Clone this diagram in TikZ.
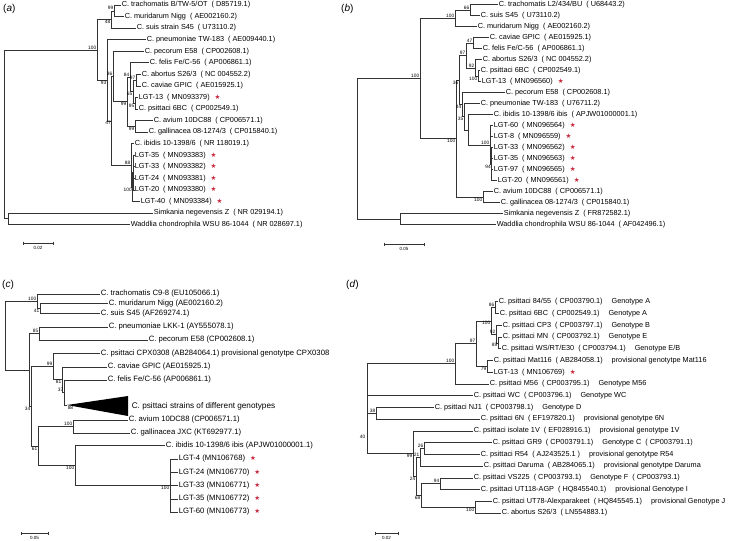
\documentclass[tikz,border=0pt]{standalone}
\usepackage{fontspec}
\setmainfont{Liberation Sans}
\newfontfamily\symf{DejaVu Sans}
\definecolor{starred}{RGB}{200,40,60}
\newcommand\lgtstar{\hspace{5pt}{\symf\color{starred}\fontsize{6.5}{7}\selectfont ★}}
\newcommand\gp{\hspace{4pt}}
\newcommand\gpp{\hspace{9pt}}
\newcommand\leafnode[4]{\node[leaf] (#1) at (#2,#3) {#4};}
\newcommand\bsup[3]{\node[bsl,anchor=south east] (#1) at (#2) {#3};}
\newcommand\bsdn[3]{\node[bsl,anchor=north east] (#1) at (#2) {#3};}
\newcommand\inn[3]{\coordinate (#1) at (#2,#3);}
\newcommand\tedge[2]{\draw[br] (#1) |- (#2);}
\tikzset{
  leaf/.style={anchor=west, inner sep=0.6pt, font=\fontsize{7.3}{8}\selectfont},
  leafc/.style={leaf, font=\fontsize{7.7}{8.5}\selectfont},
  bsl/.style={inner sep=0.6pt, font=\fontsize{4.8}{5}\selectfont},
  br/.style={draw=black!80, line width=0.55pt},
  panel/.style={anchor=west, inner sep=0pt, font=\fontsize{10}{12}\selectfont},
  sbar/.style={draw=black!80, line width=0.5pt},
  slab/.style={inner sep=0pt, font=\fontsize{4.5}{5}\selectfont}
}
\begin{document}
\begin{tikzpicture}[x=1pt,y=-1pt]
\fill[white] (0,0) rectangle (729,541);
\useasboundingbox (0,0) rectangle (729,541);

% ---------------- panel labels
\node[panel] (pa) at (3,9) {(\textit{a})};
\node[panel] (pb) at (341,9) {(\textit{b})};
\node[panel] (pc) at (2,285) {(\textit{c})};
\node[panel] (pd) at (346,285) {(\textit{d})};

% ================= (a)
\leafnode{a0}{121}{5.0}{C. trachomatis B/TW-5/OT\gp( D85719.1)}
\leafnode{a1}{124}{16.55}{C. muridarum Nigg\gp( AE002160.2)}
\leafnode{a2}{136}{28.1}{C. suis strain S45\gp( U73110.2)}
\leafnode{a3}{146}{39.65}{C. pneumoniae TW-183\gp( AE009440.1)}
\leafnode{a4}{144}{51.2}{C. pecorum E58\gp( CP002608.1)}
\leafnode{a5}{149}{62.75}{C. felis Fe/C-56\gp( AP006861.1)}
\leafnode{a6}{141}{74.3}{C. abortus S26/3\gp( NC 004552.2)}
\leafnode{a7}{141}{85.85}{C. caviae GPIC\gp( AE015925.1)}
\leafnode{a8}{138}{97.4}{LGT-13\gp( MN093379)\lgtstar}
\leafnode{a9}{138}{108.95}{C. psittaci 6BC\gp( CP002549.1)}
\leafnode{a10}{153}{120.5}{C. avium 10DC88\gp( CP006571.1)}
\leafnode{a11}{148}{132.05}{C. gallinacea 08-1274/3\gp( CP015840.1)}
\leafnode{a12}{134}{143.6}{C. ibidis 10-1398/6\gp( NR 118019.1)}
\leafnode{a13}{134}{155.15}{LGT-35\gp( MN093383)\lgtstar}
\leafnode{a14}{134}{166.7}{LGT-33\gp( MN093382)\lgtstar}
\leafnode{a15}{134}{178.25}{LGT-24\gp( MN093381)\lgtstar}
\leafnode{a16}{134}{189.8}{LGT-20\gp( MN093380)\lgtstar}
\leafnode{a17}{140}{201.35}{LGT-40\gp( MN093384)\lgtstar}
\leafnode{a18}{153}{212.9}{Simkania negevensis Z\gp( NR 029194.1)}
\leafnode{a19}{130}{224.45}{Waddlia chondrophila WSU 86-1044\gp( NR 028697.1)}

\inn{aA}{114}{10.78}
\inn{aB}{111}{19.44}
\inn{aC1}{136}{80.08}
\inn{aC2}{135}{103.18}
\inn{aC3}{133}{91.63}
\inn{aC4}{130}{77.19}
\inn{aG}{135}{126.28}
\inn{aC5}{127}{101.74}
\inn{aN36}{113}{76.47}
\inn{aL3}{133.5}{172.48}
\inn{aL2}{132.5}{186.91}
\inn{aL1}{131}{165.26}
\inn{aN47}{111.5}{120.87}
\inn{aX93}{107}{80.26}
\inn{aChl}{97}{49.85}
\inn{aSW}{8}{218.68}
\inn{aR}{4}{134.27}

\tedge{aA}{a0.west}\tedge{aA}{a1.west}
\tedge{aB}{aA}\tedge{aB}{a2.west}
\tedge{aC1}{a6.west}\tedge{aC1}{a7.west}
\tedge{aC2}{a8.west}\tedge{aC2}{a9.west}
\tedge{aC3}{aC1}\tedge{aC3}{aC2}
\tedge{aC4}{a5.west}\tedge{aC4}{aC3}
\tedge{aG}{a10.west}\tedge{aG}{a11.west}
\tedge{aC5}{aC4}\tedge{aC5}{aG}
\tedge{aN36}{a4.west}\tedge{aN36}{aC5}
\tedge{aL3}{a13.west}\tedge{aL3}{a14.west}\tedge{aL3}{a15.west}\tedge{aL3}{a16.west}
\tedge{aL2}{aL3}\tedge{aL2}{a17.west}
\tedge{aL1}{a12.west}\tedge{aL1}{aL2}
\tedge{aN47}{aN36}\tedge{aN47}{aL1}
\tedge{aX93}{a3.west}\tedge{aX93}{aN47}
\tedge{aChl}{aB}\tedge{aChl}{aX93}
\tedge{aSW}{a18.west}\tedge{aSW}{a19.west}
\tedge{aR}{aChl}\tedge{aR}{aSW}

\bsup{la1}{aA}{99}
\bsdn{la2}{aB}{48}
\bsup{la3}{aChl}{100}
\bsdn{la4}{aX93}{93}
\bsup{la5}{aN36}{36}
\bsdn{la6}{aN47}{47}
\bsup{la7}{aC4}{84}
\bsup{la8}{aC1}{97}
\bsdn{la9}{aC3}{65}
\bsdn{la10}{aC5}{99}
\bsdn{la11}{aC2}{95}
\bsdn{la12}{aG}{99}
\bsup{la13}{aL1}{88}
\bsdn{la14}{aL2}{100}

\coordinate (sa1) at (23,243); \coordinate (sa2) at (53,243);
\draw[sbar] (sa1) -- (sa2);
\draw[sbar] ([yshift=1.5pt]sa1) -- ([yshift=-1.5pt]sa1);
\draw[sbar] ([yshift=1.5pt]sa2) -- ([yshift=-1.5pt]sa2);
\node[slab] (sal) at (38,248) {0.02};

% ================= (b)
\leafnode{b0}{498}{4.7}{C. trachomatis L2/434/BU\gp( U68443.2)}
\leafnode{b1}{480}{15.7}{C. suis S45\gp( U73110.2)}
\leafnode{b2}{477}{26.7}{C. muridarum Nigg\gp( AE002160.2)}
\leafnode{b3}{489}{37.7}{C. caviae GPIC\gp( AE015925.1)}
\leafnode{b4}{482}{48.7}{C. felis Fe/C-56\gp( AP006861.1)}
\leafnode{b5}{482}{59.7}{C. abortus S26/3\gp( NC 004552.2)}
\leafnode{b6}{480}{70.7}{C. psittaci 6BC\gp( CP002549.1)}
\leafnode{b7}{481}{81.7}{LGT-13\gp( MN096560)\lgtstar}
\leafnode{b8}{505}{92.7}{C. pecorum E58\gp( CP002608.1)}
\leafnode{b9}{480}{103.7}{C. pneumoniae TW-183\gp( U76711.2)}
\leafnode{b10}{493}{114.7}{C. ibidis 10-1398/6 ibis\gp( APJW01000001.1)}
\leafnode{b11}{493}{125.7}{LGT-60\gp( MN096564)\lgtstar}
\leafnode{b12}{493}{136.7}{LGT-8\gp( MN096559)\lgtstar}
\leafnode{b13}{493}{147.7}{LGT-33\gp( MN096562)\lgtstar}
\leafnode{b14}{493}{158.7}{LGT-35\gp( MN096563)\lgtstar}
\leafnode{b15}{493}{169.7}{LGT-97\gp( MN096565)\lgtstar}
\leafnode{b16}{497}{180.7}{LGT-20\gp( MN096561)\lgtstar}
\leafnode{b17}{493}{191.7}{C. avium 10DC88\gp( CP006571.1)}
\leafnode{b18}{500}{202.7}{C. gallinacea 08-1274/3\gp( CP015840.1)}
\leafnode{b19}{503}{213.7}{Simkania negevensis Z\gp( FR872582.1)}
\leafnode{b20}{496}{224.7}{Waddlia chondrophila WSU 86-1044\gp( AF042496.1)}

\inn{bT1}{470}{10.2}
\inn{bT2}{455}{18.45}
\inn{bN47}{473}{43.2}
\inn{bP1}{478}{76.2}
\inn{bP2}{475}{67.95}
\inn{bN97}{466}{55.6}
\inn{bLG2}{491.5}{164.2}
\inn{bLG1}{490}{144.95}
\inn{bI1}{468}{129.8}
\inn{bN35}{464}{116.75}
\inn{bN44}{462}{104.7}
\inn{bN36}{459}{80.2}
\inn{bAG}{483}{197.2}
\inn{bXb}{456}{138.7}
\inn{bChl}{420}{78.6}
\inn{bSW}{400}{219.2}
\inn{bR}{357}{148.9}

\tedge{bT1}{b0.west}\tedge{bT1}{b1.west}
\tedge{bT2}{bT1}\tedge{bT2}{b2.west}
\tedge{bN47}{b3.west}\tedge{bN47}{b4.west}
\tedge{bP1}{b6.west}\tedge{bP1}{b7.west}
\tedge{bP2}{b5.west}\tedge{bP2}{bP1}
\tedge{bN97}{bN47}\tedge{bN97}{bP2}
\tedge{bLG2}{b13.west}\tedge{bLG2}{b14.west}\tedge{bLG2}{b15.west}\tedge{bLG2}{b16.west}
\tedge{bLG1}{b11.west}\tedge{bLG1}{b12.west}\tedge{bLG1}{bLG2}
\tedge{bI1}{b10.west}\tedge{bI1}{bLG1}
\tedge{bN35}{b9.west}\tedge{bN35}{bI1}
\tedge{bN44}{b8.west}\tedge{bN44}{bN35}
\tedge{bN36}{bN97}\tedge{bN36}{bN44}
\tedge{bAG}{b17.west}\tedge{bAG}{b18.west}
\tedge{bXb}{bN36}\tedge{bXb}{bAG}
\tedge{bChl}{bT2}\tedge{bChl}{bXb}
\tedge{bSW}{b19.west}\tedge{bSW}{b20.west}
\tedge{bR}{bChl}\tedge{bR}{bSW}

\bsup{lb1}{bT1}{66}
\bsup{lb2}{bT2}{100}
\bsup{lb3}{bN47}{47}
\bsup{lb4}{bN97}{97}
\bsup{lb5}{bP2}{92}
\bsdn{lb6}{bP1}{100}
\bsdn{lb7}{bN36}{36}
\bsdn{lb8}{bN44}{44}
\bsdn{lb9}{bN35}{35}
\bsup{lb10}{bLG1}{100}
\bsdn{lb11}{bLG2}{94}
\bsdn{lb12}{bXb}{100}
\bsdn{lb13}{bAG}{100}
\bsup{lb14}{bChl}{100}

\coordinate (sb1) at (384,244); \coordinate (sb2) at (424,244);
\draw[sbar] (sb1) -- (sb2);
\draw[sbar] ([yshift=1.5pt]sb1) -- ([yshift=-1.5pt]sb1);
\draw[sbar] ([yshift=1.5pt]sb2) -- ([yshift=-1.5pt]sb2);
\node[slab] (sbl) at (404,249) {0.05};

% ================= (c)
\node[leafc] (c0) at (100,294) {C. trachomatis C9-8 (EU105066.1)};
\node[leafc] (c1) at (108,303.5) {C. muridarum Nigg (AE002160.2)};
\node[leafc] (c2) at (100,313.5) {C. suis S45 (AF269274.1)};
\node[leafc] (c3) at (108,327) {C. pneumoniae LKK-1 (AY555078.1)};
\node[leafc] (c4) at (148,340) {C. pecorum E58 (CP002608.1)};
\node[leafc] (c5) at (100,353.5) {C. psittaci CPX0308 (AB284064.1) provisional genotytpe CPX0308};
\node[leafc] (c6) at (107,367) {C. caviae GPIC (AE015925.1)};
\node[leafc] (c7) at (107,380) {C. felis Fe/C-56 (AP006861.1)};
\node[leafc] (c9) at (128,420) {C. avium 10DC88 (CP006571.1)};
\node[leafc] (c10) at (130,433) {C. gallinacea JXC (KT692977.1)};
\node[leafc] (c11) at (165,445.5) {C. ibidis 10-1398/6 ibis (APJW01000001.1)};
\node[leafc] (c12) at (178,459) {LGT-4 (MN106768)\lgtstar};
\node[leafc] (c13) at (178,472.3) {LGT-24 (MN106770)\lgtstar};
\node[leafc] (c14) at (178,485.5) {LGT-33 (MN106771)\lgtstar};
\node[leafc] (c15) at (178,498.8) {LGT-35 (MN106772)\lgtstar};
\node[leafc] (c16) at (178,512) {LGT-60 (MN106773)\lgtstar};

\coordinate (ctip) at (67,405);
\coordinate (ctt) at (128,396);
\coordinate (ctb) at (128,416);
\fill[black] (ctip) -- (ctt) -- (ctb) -- cycle;
\node[leaf, font=\fontsize{8.2}{9}\selectfont] (c8) at (131,406) {C. psittaci strains of different genotypes};

\inn{cMS}{40}{308.5}
\inn{cTG}{37}{301.25}
\inn{cPP}{39}{333.5}
\inn{cN37}{64}{392.5}
\inn{cN81}{62}{379.75}
\inn{cN99}{53}{366.6}
\inn{cAG}{73}{426.5}
\inn{cLGT}{170}{485.5}
\inn{cLG}{75}{465.5}
\inn{cN61}{38}{446}
\inn{cR2}{31}{406.3}
\inn{cR1}{29}{369.9}
\inn{cR}{5}{335.6}

\tedge{cMS}{c1.west}\tedge{cMS}{c2.west}
\tedge{cTG}{c0.west}\tedge{cTG}{cMS}
\tedge{cPP}{c3.west}\tedge{cPP}{c4.west}
\tedge{cN37}{c7.west}\tedge{cN37}{ctip}
\tedge{cN81}{c6.west}\tedge{cN81}{cN37}
\tedge{cN99}{c5.west}\tedge{cN99}{cN81}
\tedge{cAG}{c9.west}\tedge{cAG}{c10.west}
\tedge{cLGT}{c12.west}\tedge{cLGT}{c13.west}\tedge{cLGT}{c14.west}\tedge{cLGT}{c15.west}\tedge{cLGT}{c16.west}
\tedge{cLG}{c11.west}\tedge{cLG}{cLGT}
\tedge{cN61}{cAG}\tedge{cN61}{cLG}
\tedge{cR2}{cN99}\tedge{cR2}{cN61}
\tedge{cR1}{cPP}\tedge{cR1}{cR2}
\tedge{cR}{cTG}\tedge{cR}{cR1}

\bsup{lc1}{cTG}{100}
\bsdn{lc2}{cMS}{41}
\bsup{lc3}{cPP}{85}
\bsup{lc4}{cN99}{99}
\bsdn{lc5}{cN81}{81}
\bsup{lc6}{cN37}{37}
\node[bsl,anchor=north west] (lc7) at (ctip) {88};
\bsdn{lc8}{cR2}{34}
\bsup{lc9}{cAG}{100}
\bsdn{lc10}{cN61}{61}
\bsdn{lc11}{cLG}{100}
\bsdn{lc12}{cLGT}{100}

\coordinate (sc1) at (21,533); \coordinate (sc2) at (48,533);
\draw[sbar] (sc1) -- (sc2);
\draw[sbar] ([yshift=1.5pt]sc1) -- ([yshift=-1.5pt]sc1);
\draw[sbar] ([yshift=1.5pt]sc2) -- ([yshift=-1.5pt]sc2);
\node[slab] (scl) at (34.5,538) {0.05};

% ================= (d)
\leafnode{d0}{498}{301.7}{C. psittaci 84/55\gp( CP003790.1)\gpp Genotype A}
\leafnode{d1}{499}{313.44}{C. psittaci 6BC\gp( CP002549.1)\gpp Genotype A}
\leafnode{d2}{502}{325.18}{C. psittaci CP3\gp( CP003797.1)\gpp Genotype B}
\leafnode{d3}{502}{336.92}{C. psittaci MN\gp( CP003792.1)\gpp Genotype E}
\leafnode{d4}{501}{348.66}{C. psittaci WS/RT/E30\gp( CP003794.1)\gpp Genotype E/B}
\leafnode{d5}{493}{360.4}{C. psittaci Mat116\gp( AB284058.1)\gpp provisional genotytpe Mat116}
\leafnode{d6}{493}{372.14}{LGT-13\gp( MN106769)\lgtstar}
\leafnode{d7}{489}{383.88}{C. psittaci M56\gp( CP003795.1)\gpp Genotype M56}
\leafnode{d8}{473}{395.62}{C. psittaci WC\gp( CP003796.1)\gpp Genotype WC}
\leafnode{d9}{434}{407.36}{C. psittaci NJ1\gp( CP003798.1)\gpp Genotype D}
\leafnode{d10}{480}{419.1}{C. psittaci 6N\gp( EF197820.1)\gpp provisional genotytpe 6N}
\leafnode{d11}{473}{430.84}{C. psittaci isolate 1V\gp( EF028916.1)\gpp provisional genotytpe 1V}
\leafnode{d12}{492}{442.58}{C. psittaci GR9\gp( CP003791.1)\gpp Genotype C\gp( CP003791.1)}
\leafnode{d13}{480}{454.32}{C. psittaci R54\gp( AJ243525.1 )\gpp provisional genotytpe R54}
\leafnode{d14}{483}{466.06}{C. psittaci Daruma\gp( AB284065.1)\gpp provisional genotytpe Daruma}
\leafnode{d15}{473}{477.8}{C. psittaci VS225\gp( CP003793.1)\gpp Genotype F\gp( CP003793.1)}
\leafnode{d16}{480}{489.54}{C. psittaci UT118-AGP\gp( HQ845540.1)\gpp provisional Genotype I}
\leafnode{d17}{492}{501.28}{C. psittaci UT78-Alexparakeet\gp( HQ845545.1)\gpp provisional Genotype J}
\leafnode{d18}{501}{513.02}{C. abortus S26/3\gp( LN554883.1)}

\inn{dA86}{495}{307.55}
\inn{dE89}{498}{342.8}
\inn{dE92}{496}{334}
\inn{dA100}{491}{320.8}
\inn{dM79}{487}{366.25}
\inn{dA97}{476}{343.5}
\inn{dAtop}{455}{363.7}
\inn{dN38}{376}{413.25}
\inn{dN26}{424}{448.45}
\inn{dN21}{420}{457.3}
\inn{dF94}{440}{483.65}
\inn{dJ100}{475}{507.15}
\inn{dN68}{421}{495.4}
\inn{dN24}{416}{476.35}
\inn{dN99}{413}{453.6}
\inn{dR}{367}{408.6}

\tedge{dA86}{d0.west}\tedge{dA86}{d1.west}
\tedge{dE89}{d3.west}\tedge{dE89}{d4.west}
\tedge{dE92}{d2.west}\tedge{dE92}{dE89}
\tedge{dA100}{dA86}\tedge{dA100}{dE92}
\tedge{dM79}{d5.west}\tedge{dM79}{d6.west}
\tedge{dA97}{dA100}\tedge{dA97}{dM79}
\tedge{dAtop}{dA97}\tedge{dAtop}{d7.west}
\tedge{dN38}{d9.west}\tedge{dN38}{d10.west}
\tedge{dN26}{d12.west}\tedge{dN26}{d13.west}
\tedge{dN21}{dN26}\tedge{dN21}{d14.west}
\tedge{dF94}{d15.west}\tedge{dF94}{d16.west}
\tedge{dJ100}{d17.west}\tedge{dJ100}{d18.west}
\tedge{dN68}{dF94}\tedge{dN68}{dJ100}
\tedge{dN24}{dN21}\tedge{dN24}{dN68}
\tedge{dN99}{d11.west}\tedge{dN99}{dN24}
\tedge{dR}{dAtop}\tedge{dR}{d8.west}\tedge{dR}{dN38}\tedge{dR}{dN99}

\bsup{ld1}{dA86}{86}
\bsdn{ld2}{dA100}{100}
\bsup{ld3}{dE92}{92}
\bsdn{ld4}{dE89}{89}
\bsup{ld5}{dA97}{97}
\bsup{ld6}{dAtop}{100}
\bsdn{ld7}{dM79}{79}
\bsup{ld8}{dN38}{38}
\node[bsl,anchor=east] (ld0) at (366,437) {40};
\bsup{ld9}{dN26}{26}
\bsup{ld10}{dN21}{21}
\bsdn{ld11}{dN99}{99}
\bsdn{ld12}{dN24}{24}
\bsdn{ld13}{dN68}{68}
\bsup{ld14}{dF94}{94}
\bsdn{ld15}{dJ100}{100}

\coordinate (sd1) at (375,533); \coordinate (sd2) at (398,533);
\draw[sbar] (sd1) -- (sd2);
\draw[sbar] ([yshift=1.5pt]sd1) -- ([yshift=-1.5pt]sd1);
\draw[sbar] ([yshift=1.5pt]sd2) -- ([yshift=-1.5pt]sd2);
\node[slab] (sdl) at (386.5,538) {0.02};
\end{tikzpicture}
\end{document}
